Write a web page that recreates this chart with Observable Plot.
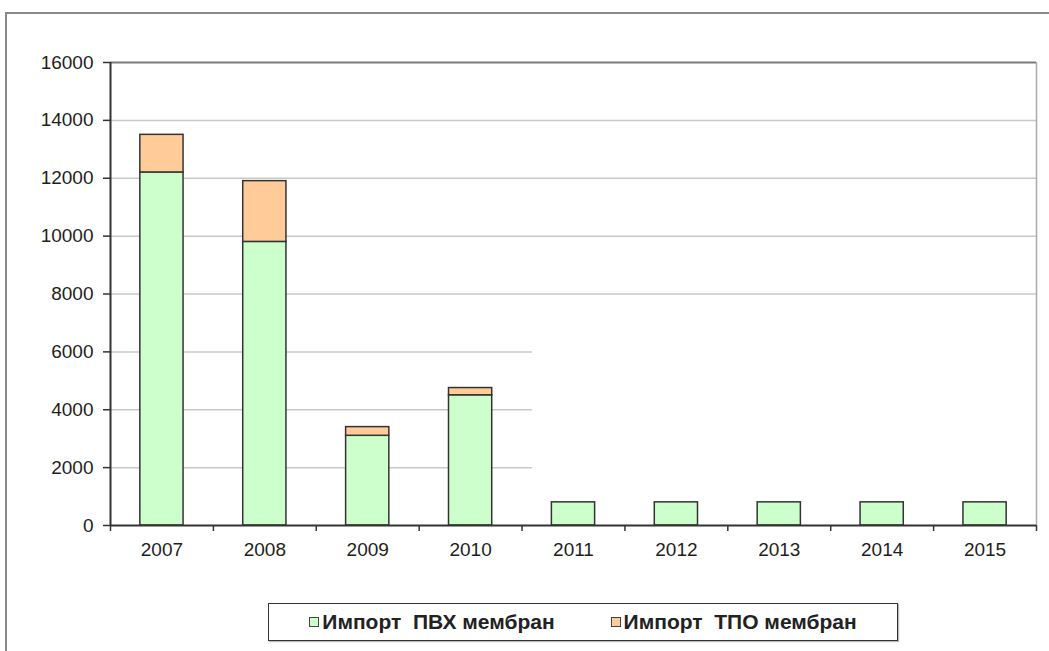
<!DOCTYPE html>
<html>
<head>
<meta charset="utf-8">
<script src="https://cdn.jsdelivr.net/npm/d3@7"></script>
<script src="https://cdn.jsdelivr.net/npm/@observablehq/plot@0.6"></script>
<style>
  html, body { margin: 0; padding: 0; background: #fff; }
  #wrap { position: relative; width: 1049px; height: 651px; overflow: hidden; font-family: "Liberation Sans", Arial, sans-serif; }
  #frame { position: absolute; left: 5px; top: 12px; width: 1100px; height: 700px; border-top: 2px solid #8a8a8a; border-left: 2px solid #8a8a8a; }
  #chart { position: absolute; left: 0; top: 0; }
  #legend { position: absolute; left: 268px; top: 603px; width: 628px; height: 36px; border: 1.5px solid #333;
            box-shadow: 1px 1px 1px #bbb; display: flex; align-items: center; justify-content: center; gap: 56px;
            font-weight: bold; font-size: 21px; color: #222; white-space: pre; }
  .item { display: flex; align-items: center; }
  .sw { width: 8px; height: 8px; border: 1.5px solid #444; margin-right: 3px; }
  svg text { font-weight: normal; }
</style>
</head>
<body>
<div id="wrap">
  <div id="frame"></div>
  <div id="chart"></div>
  <div id="legend"></div>
</div>
<script>
const years = [2007, 2008, 2009, 2010, 2011, 2012, 2013, 2014, 2015];
const pvh = [12200, 9800, 3100, 4500, 800, 800, 800, 800, 800];
const tpo = [1300, 2100, 300, 250, 0, 0, 0, 0, 0];
const seriesNames = ["Импорт  ПВХ мембран", "Импорт  ТПО мембран"];
const seriesColors = ["#ccffcc", "#ffcc99"];
const yTicks = [0, 2000, 4000, 6000, 8000, 10000, 12000, 14000, 16000];
const highGrid = [8000, 10000, 12000, 14000];
const lowGrid = [2000, 4000, 6000];

const half = 0.21;
const rows = [];
years.forEach((yr, i) => {
  rows.push({year: yr, series: seriesNames[0], y1: 0, y2: pvh[i]});
  if (tpo[i] > 0) rows.push({year: yr, series: seriesNames[1], y1: pvh[i], y2: pvh[i] + tpo[i]});
});
const xMin = years[0] - 0.5, xMax = years[years.length - 1] + 0.5;
const bounds = d3.range(xMin, xMax + 0.01, 1);

const chart = Plot.plot({
  width: 1049,
  height: 590,
  marginLeft: 110,
  marginRight: 13,
  marginTop: 62,
  marginBottom: 65,
  style: {fontFamily: "'Liberation Sans', Arial, sans-serif", fontSize: "19px", color: "#1e1e1e", background: "transparent"},
  x: {type: "linear", domain: [xMin, xMax]},
  y: {domain: [0, 16000]},
  color: {domain: seriesNames, range: seriesColors},
  marks: [
    Plot.ruleY(highGrid, {stroke: "#c8c8c8", strokeWidth: 1.5}),
    Plot.ruleY(lowGrid, {x1: xMin, x2: 2010.6, stroke: "#c8c8c8", strokeWidth: 1.5}),
    Plot.ruleY([16000], {stroke: "#7a7a7a", strokeWidth: 2}),
    Plot.ruleX([xMax], {stroke: "#aaaaaa", strokeWidth: 1.5}),
    Plot.rect(rows, {x1: d => d.year - half, x2: d => d.year + half, y1: "y1", y2: "y2", fill: "series", stroke: "#333", strokeWidth: 1.5}),
    Plot.axisY({ticks: yTicks, tickFormat: d => String(d), tickSize: 7, tickPadding: 10, stroke: "#333", strokeWidth: 1.5}),
    Plot.axisX({ticks: years, tickFormat: d => String(d), tickSize: 0, tickPadding: 17}),
    Plot.axisX({ticks: bounds, tickFormat: () => "", tickSize: 6, stroke: "#333", strokeWidth: 1.5}),
    Plot.ruleX([xMin], {y1: 0, y2: 16000, stroke: "#333", strokeWidth: 2}),
    Plot.ruleY([0], {stroke: "#333", strokeWidth: 2})
  ]
});
document.getElementById("chart").appendChild(chart);

const legend = document.getElementById("legend");
seriesNames.forEach((name, i) => {
  const item = document.createElement("div");
  item.className = "item";
  const sw = document.createElement("span");
  sw.className = "sw";
  sw.style.background = seriesColors[i];
  const label = document.createElement("span");
  label.textContent = name;
  item.appendChild(sw);
  item.appendChild(label);
  legend.appendChild(item);
});
</script>
</body>
</html>
